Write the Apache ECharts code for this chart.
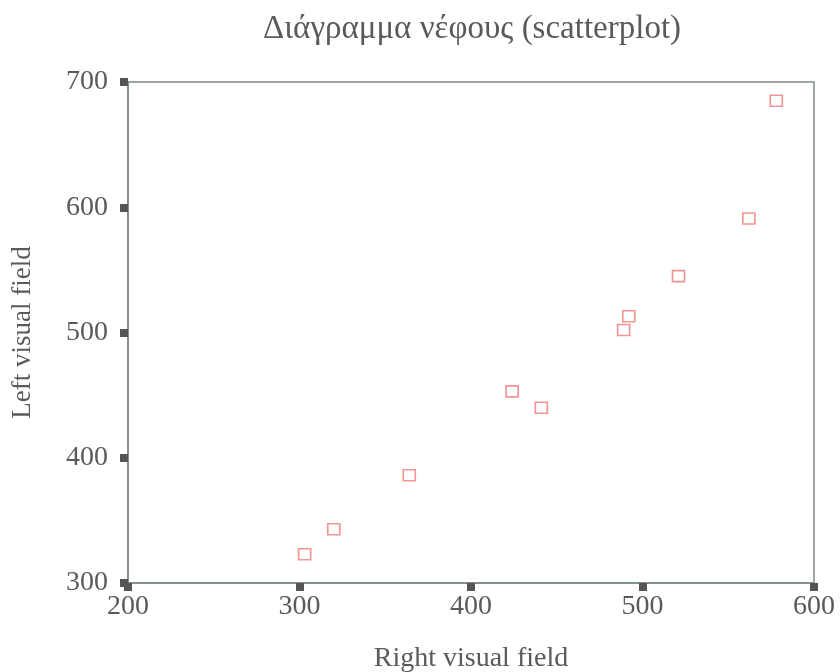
<!DOCTYPE html>
<html>
<head>
<meta charset="utf-8">
<script src="https://cdn.jsdelivr.net/npm/echarts@6/dist/echarts.min.js"></script>
<style>
html,body{margin:0;padding:0;background:#fff;}
#chart{width:840px;height:672px;}
</style>
</head>
<body>
<div id="chart"></div>
<script>
var titleText = 'Διάγραμμα νέφους (scatterplot)';
var xName = 'Right visual field';
var yName = 'Left visual field';
var rightField = [303, 320, 364, 424, 441, 489, 492, 521, 562, 578];
var leftField  = [323, 343, 386, 453, 440, 502, 513, 545, 591, 685];
var xTicks = [200, 300, 400, 500, 600];
var yTicks = [300, 400, 500, 600, 700];

var points = rightField.map(function (v, i) { return [v, leftField[i]]; });
var fontFam = '"Liberation Serif", "DejaVu Serif", serif';
var txtColor = '#5a5a5a';
var axisCol = '#7d8888';

var chart = echarts.init(document.getElementById('chart'));
chart.setOption({
  backgroundColor: '#ffffff',
  animation: false,
  title: {
    text: titleText,
    left: 258,
    top: 8,
    textStyle: { fontFamily: fontFam, fontSize: 33, fontWeight: 'normal', color: txtColor }
  },
  grid: {
    left: 128, right: 26, top: 82, bottom: 89,
    containLabel: false,
    outerBoundsMode: 'none',
    show: true, borderColor: axisCol, borderWidth: 1.5, backgroundColor: 'transparent'
  },
  xAxis: {
    type: 'value',
    min: xTicks[0], max: xTicks[xTicks.length - 1], interval: 100,
    name: xName, nameLocation: 'middle', nameGap: 62,
    nameTextStyle: { fontFamily: fontFam, fontSize: 28, color: txtColor },
    axisLine: { show: true, lineStyle: { color: axisCol, width: 1.5 } },
    axisTick: { show: true, length: 8, lineStyle: { color: '#555', width: 8 } },
    axisLabel: { fontFamily: fontFam, fontSize: 28, color: txtColor, margin: 10 },
    splitLine: { show: false }
  },
  yAxis: {
    type: 'value',
    min: yTicks[0], max: yTicks[yTicks.length - 1], interval: 100,
    name: yName, nameLocation: 'middle', nameGap: 92,
    nameTextStyle: { fontFamily: fontFam, fontSize: 27, color: txtColor },
    axisLine: { show: true, lineStyle: { color: axisCol, width: 1.5 } },
    axisTick: { show: true, length: 8, lineStyle: { color: '#555', width: 8 } },
    axisLabel: { fontFamily: fontFam, fontSize: 28, color: txtColor, margin: 20 },
    splitLine: { show: false }
  },
  series: [{
    type: 'scatter',
    data: points,
    symbol: 'rect',
    symbolSize: [12, 11],
    itemStyle: { color: 'rgba(255,255,255,0)', borderColor: '#f07a7a', borderWidth: 1.6 }
  }]
});
</script>
</body>
</html>
